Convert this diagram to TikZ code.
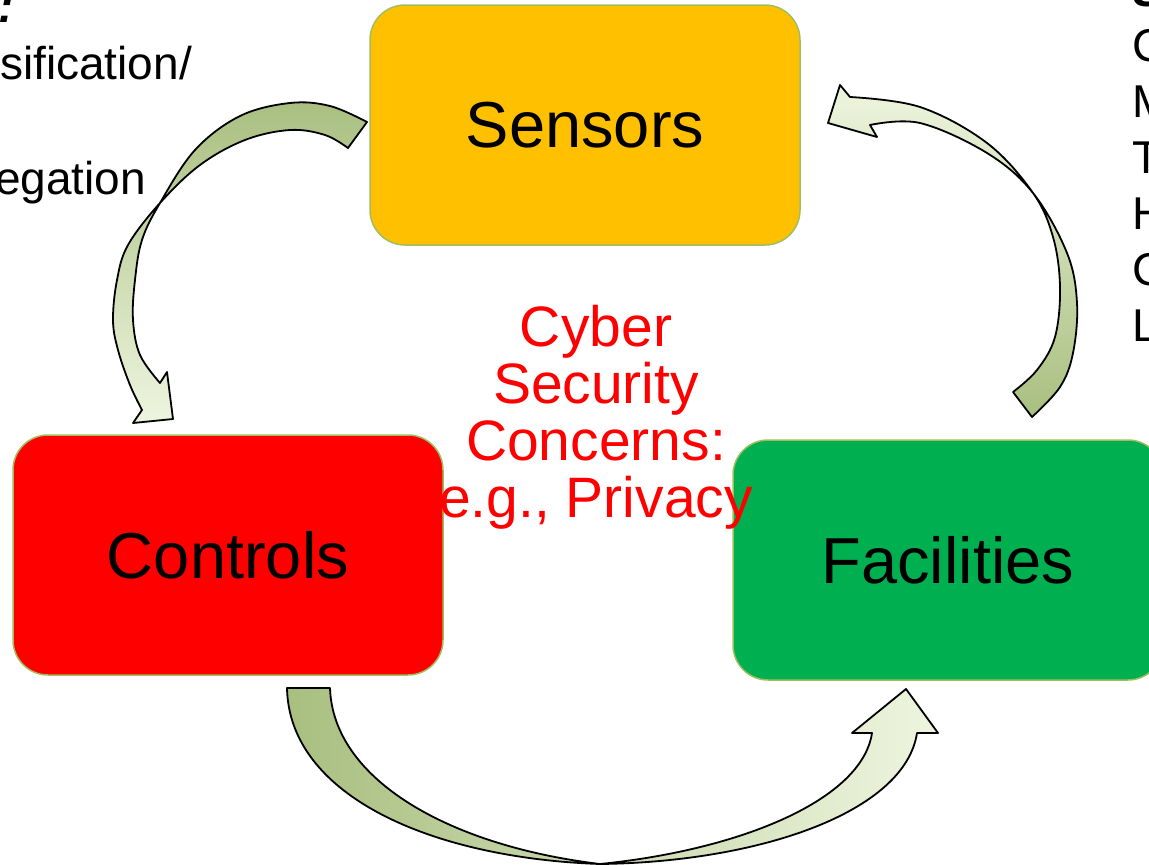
\documentclass[tikz,border=0pt]{standalone}
\usepackage{fontspec}
\setmainfont{Liberation Sans}

\definecolor{arrowdark}{RGB}{169,191,128}
\definecolor{arrowpale}{RGB}{238,245,223}
\definecolor{boxline}{RGB}{160,190,95}
\definecolor{sensorfill}{RGB}{255,192,0}
\definecolor{controlfill}{RGB}{255,0,0}
\definecolor{facilityfill}{RGB}{0,176,80}

\tikzset{
  unitbox/.style={draw=boxline, line width=1.5pt, rounded corners=35pt,
    minimum width=430pt, minimum height=240pt, inner sep=0pt,
    font=\fontsize{65}{78}\selectfont, text=black},
  bentarrow/.style={draw=black, line width=1.8pt, line join=round},
  sidetext/.style={font=\fontsize{46}{57}\selectfont, inner sep=0pt, text=black},
  sidehead/.style={font=\fontsize{46}{57}\selectfont\bfseries\itshape, inner sep=0pt, text=black},
  concern/.style={font=\fontsize{57}{57}\selectfont, text=red, align=center, inner sep=0pt}
}

\begin{document}
\begin{tikzpicture}[x=1pt,y=-1pt]
\useasboundingbox (0,0) rectangle (1149,865);
\clip (0,0) rectangle (1149,865);

% curved arrow: Sensors -> Controls (twisted ribbon, dark at the tail)
\path[bentarrow, top color=arrowdark, bottom color=arrowpale]
  plot[smooth, tension=0.6] coordinates {(367,122) (330,106) (290,103) (240,116) (195,150) (160,203) (142,240) (135,280) (133,320) (140,355) (160,383)}
  -- (167,372) -- (173,419) -- (133,423) -- (142,410)
  -- plot[smooth, tension=0.6] coordinates {(142,410) (130,385) (118,350) (113,320) (117,280) (128,245) (160,203) (200,165) (245,140) (290,130) (325,135) (348,148)}
  -- cycle;

% curved arrow: Facilities -> Sensors
\path[bentarrow, top color=arrowpale, bottom color=arrowdark]
  plot[smooth, tension=0.6] coordinates {(850,97) (920,107) (987,143) (1033,193) (1053,237) (1060,287) (1055,337) (1037,370) (1013,392)}
  -- (1032,417)
  -- plot[smooth, tension=0.6] coordinates {(1032,417) (1060,387) (1073,353) (1077,303) (1067,253) (1033,193) (987,153) (920,123) (870,125)}
  -- (877,137) -- (828,123) -- (840,85) -- cycle;

% curved arrow: Controls -> Facilities
\path[bentarrow, left color=arrowdark, right color=arrowpale]
  (287,688) .. controls (289,795) and (430,858) .. (600,864)
  .. controls (740,850) and (862,800) .. (872,733)
  -- (852,733) -- (906,689) -- (938,733) -- (917,733)
  .. controls (905,812) and (760,862) .. (600,864)
  .. controls (450,846) and (333,780) .. (330,688)
  -- cycle;

% the three units
\node[unitbox, fill=sensorfill] (sensors) at (585,125) {Sensors};
\node[unitbox, fill=controlfill] (controls) at (228,555) {Controls};
\node[unitbox, fill=facilityfill] (facilities) at (948,560) {Facilities};

% central note
\node[concern] (cyber) at (596,417) {Cyber\\Security\\Concerns:\\e.g., Privacy};

% left side list
\node[sidehead, anchor=base east] (lhead) at (14,22) {:};
\node[sidetext, anchor=base west] (lone) at (0,79) {sification/};
\node[sidetext, anchor=base west] (ltwo) at (-5,194) {egation};

% right side list
\node[sidehead, anchor=base west] (rhead) at (1133,6) {S};
\node[sidetext, anchor=base west] (rone) at (1132,61) {C};
\node[sidetext, anchor=base west] (rtwo) at (1132,117) {M};
\node[sidetext, anchor=base west] (rthree) at (1132,173) {T};
\node[sidetext, anchor=base west] (rfour) at (1132,229) {H};
\node[sidetext, anchor=base west] (rfive) at (1132,285) {C};
\node[sidetext, anchor=base west] (rsix) at (1132,341) {L};
\end{tikzpicture}
\end{document}
